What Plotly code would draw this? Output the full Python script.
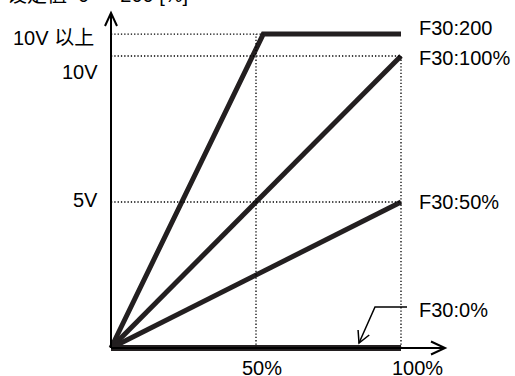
import math
import plotly.graph_objects as go

# ---------------- data ----------------
curve_names = ["F30:200", "F30:100%", "F30:50%", "F30:0%"]
curve_x = [[0, 52.5, 100], [0, 100], [0, 100], [0, 100]]
curve_y = [[0, 10.75, 10.75], [0, 10], [0, 5], [0, 0]]
x_ticks = [50, 100]
x_tick_labels = ["50%", "100%"]
y_ticks = [10.75, 10, 5]
y_tick_labels = ["10V 以上", "10V", "5V"]
title_text = "设定值  0 ～ 200 [%]"

# ---------------- geometry ----------------
W, H = 515, 376
ML, MR, MT, MB = 90, 60, 8, 10
OX, OY = 111, 348          # pixel of the origin
SX, SY = 2.9, 29.2         # pixels per % and per V


def dx(px):
    return (px - OX) / SX


def dy(py):
    return (OY - py) / SY


XR = [dx(ML), dx(W - MR)]
YR = [dy(H - MB), dy(MT)]

INK = "#231f20"
FONT = "Liberation Sans, Arial, Noto Sans CJK SC, sans-serif"

fig = go.Figure()

# thick characteristic lines
for name, xs, ys in zip(curve_names, curve_x, curve_y):
    fig.add_trace(go.Scatter(
        x=xs, y=ys, mode="lines", name=name, cliponaxis=False,
        line=dict(color=INK, width=6 if name == "F30:0%" else 5),
        hoverinfo="skip", showlegend=False))

shapes = []
dot = dict(color="#000000", width=1.3, dash="1.3px,2px")
# dotted guide lines
top_x, top_y = curve_x[0][1], curve_y[0][1]
shapes.append(dict(type="line", x0=0, x1=top_x, y0=top_y, y1=top_y, line=dot))
shapes.append(dict(type="line", x0=0, x1=100, y0=curve_y[1][1], y1=curve_y[1][1], line=dot))
shapes.append(dict(type="line", x0=0, x1=100, y0=curve_y[2][1], y1=curve_y[2][1], line=dot))
shapes.append(dict(type="line", x0=x_ticks[0], x1=x_ticks[0], y0=0, y1=top_y, line=dot))
shapes.append(dict(type="line", x0=x_ticks[1], x1=x_ticks[1], y0=0, y1=curve_y[1][1], line=dot))

ax = dict(color="#000000", width=2)
# axes
shapes.append(dict(type="line", x0=0, x1=0, y0=0, y1=dy(13), line=ax))
shapes.append(dict(type="path",
                   path=f"M{dx(105)},{dy(26)} L0,{dy(13)} L{dx(117)},{dy(26)}",
                   line=ax))
shapes.append(dict(type="line", x0=0, x1=dx(445), y0=0, y1=0, line=ax))
shapes.append(dict(type="path",
                   path=f"M{dx(431)},{dy(341.5)} L{dx(445)},0 L{dx(431)},{dy(354.5)}",
                   line=ax))

# pointer to F30:0%
p0, p1, tip = (407, 307), (375, 307), (359, 343)
shapes.append(dict(type="path",
                   path=f"M{dx(p0[0])},{dy(p0[1])} L{dx(p1[0])},{dy(p1[1])} L{dx(tip[0])},{dy(tip[1])}",
                   line=dict(color="#000000", width=1.5)))
bx, by = p1[0] - tip[0], p1[1] - tip[1]
bl = math.hypot(bx, by)
bx, by = bx / bl, by / bl
arms = []
for ang in (-28, 28):
    a = math.radians(ang)
    ux = bx * math.cos(a) - by * math.sin(a)
    uy = bx * math.sin(a) + by * math.cos(a)
    arms.append((tip[0] + 13 * ux, tip[1] + 13 * uy))
shapes.append(dict(type="path",
                   path=f"M{dx(arms[0][0])},{dy(arms[0][1])} L{dx(tip[0])},{dy(tip[1])} L{dx(arms[1][0])},{dy(arms[1][1])}",
                   line=dict(color="#000000", width=1.5)))

fig.update_layout(shapes=shapes)

ann = []
f20 = dict(family=FONT, size=20, color="#000000")
# x labels
for v, t, xs in zip(x_ticks, x_tick_labels, [6, 16]):
    ann.append(dict(x=v, y=0, text=t, showarrow=False, xanchor="center", yanchor="middle",
                    xshift=xs, yshift=-20, font=f20))
# y labels
for v, t, xs, ys in zip(y_ticks, y_tick_labels, [-15, -11, -11], [-3.5, -16, 2]):
    ann.append(dict(x=0, y=v, text=t, showarrow=False, xanchor="right", yanchor="middle",
                    xshift=xs, yshift=ys, font=f20))
# curve labels
for name, ys_, sh in zip(curve_names, [curve_y[0][-1], curve_y[1][-1], curve_y[2][-1], curve_y[3][-1]],
                         [6.5, -2, 0, 38]):
    ann.append(dict(x=100, y=ys_, text=name, showarrow=False, xanchor="left", yanchor="middle",
                    xshift=16, yshift=sh, font=f20))
# clipped title fragment at the very top
ann.append(dict(x=dx(190), y=dy(8), text=title_text, showarrow=False,
                xanchor="right", yanchor="bottom", font=f20))

fig.update_layout(
    annotations=ann,
    width=W, height=H,
    margin=dict(l=ML, r=MR, t=MT, b=MB, pad=0),
    paper_bgcolor="white", plot_bgcolor="white",
    xaxis=dict(range=XR, visible=False, fixedrange=True),
    yaxis=dict(range=YR, visible=False, fixedrange=True),
    showlegend=False,
)

fig.write_html("out.html", config={"displayModeBar": False},
               post_script="document.body.style.margin='0';document.body.style.overflow='hidden';")
